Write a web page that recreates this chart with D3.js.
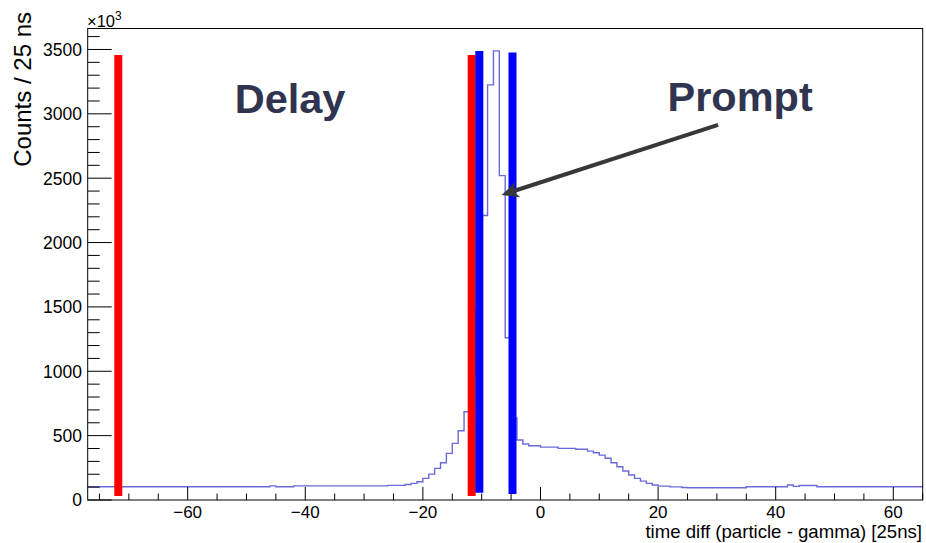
<!DOCTYPE html>
<html><head><meta charset="utf-8">
<script src="https://cdn.jsdelivr.net/npm/d3@7"></script>
<style>
body{margin:0;background:#fff}
svg{display:block}
text{font-family:"Liberation Sans",Arial,Helvetica,sans-serif}
</style>
</head><body>
<svg id="c" width="926" height="543"></svg>
<script>
// ---- data ----
const binStart = -77;   // lower edge of first bin
const binWidth = 1;     // 1 bin = 25 ns
const counts = [
  // -77 .. -47
  103,103,103,103,103,103,103,103,103,103,103,103,103,103,103,103,103,103,103,103,103,103,103,103,103,103,103,103,103,103,103,
  // -46
  110,
  // -45 .. -43
  103,103,103,
  // -42 .. -27
  110,110,110,110,110,110,110,110,110,110,110,110,110,110,110,110,
  // -26 .. -24
  114,114,114,
  // -23 .. -13
  121,129,142,168,201,246,289,362,440,538,686,
  // -12 .. -1
  960,1500,2210,3225,3489,2520,1260,638,466,435,422,422,
  // 0 .. 24
  411,411,411,401,401,401,394,394,380,367,349,324,289,258,225,194,168,147,129,116,108,108,102,102,97,
  // 25 .. 34
  95,95,95,95,95,95,95,95,95,95,
  // 35 .. 41
  103,103,103,103,103,103,103,
  // 42, 43
  116,106,
  // 44 .. 46
  113,113,113,
  // 47 .. 64
  103,103,103,103,103,103,103,103,103,103,103,103,103,103,103,103,103,103
];
const xMajorTicks = [-60,-40,-20,0,20,40,60];
const xTickLabels = ["\u221260","\u221240","\u221220","0","20","40","60"];
const yMajorTicks = [0,500,1000,1500,2000,2500,3000,3500];
const yTickLabels = ["0","500","1000","1500","2000","2500","3000","3500"];

// vertical window markers (delay = red, prompt = blue)
const markerX      = [-71.8, -11.7, -10.4, -4.76];
const markerTop    = [3458, 3458, 3489, 3476];
const markerBottom = [31, 31, 57, 47];
const markerColor  = ["#ff0000","#ff0000","#0000ff","#0000ff"];

const labels = ["Delay","Prompt"];
const labelX = [-52.0, 21.6];
const labelY = [3010, 3025];
const arrowFrom = [30.2, 2914];
const arrowTo   = [-6.6, 2370];

// ---- layout ----
const L = 87.7, R = 922.7, T = 28.5, B = 500;
const xDomain = [-77, 65];
const yDomain = [0, 3663];

const svg = d3.select("#c");
const x = d3.scaleLinear().domain(xDomain).range([L, R]);
const y = d3.scaleLinear().domain(yDomain).range([B, T]);

// histogram outline
const pts = counts.map((v,i)=>[binStart + i*binWidth, v]);
pts.push([binStart + counts.length*binWidth, counts[counts.length-1]]);
const line = d3.line().x(d=>x(d[0])).y(d=>y(d[1])).curve(d3.curveStepAfter);
svg.append("path").attr("d", line(pts))
  .attr("fill","none").attr("stroke","#5a5ad6").attr("stroke-width",1.4)
  .attr("stroke-opacity",0.9);

// markers
markerX.forEach((mx,i)=>{
  svg.append("line")
    .attr("x1",x(mx)).attr("x2",x(mx))
    .attr("y1",y(markerBottom[i])).attr("y2",y(markerTop[i]))
    .attr("stroke",markerColor[i]).attr("stroke-width",8);
});

// frame
const g = svg.append("g");
g.append("rect").attr("x",L).attr("y",T).attr("width",R-L).attr("height",B-T)
  .attr("fill","none").attr("stroke","#000").attr("stroke-width",1);

// x ticks
const xMinor = d3.range(-75, 66, 5);
xMinor.forEach(v=>{
  const major = xMajorTicks.includes(v);
  g.append("line").attr("x1",x(v)).attr("x2",x(v))
    .attr("y1",B).attr("y2",B-(major?13:6.5))
    .attr("stroke","#000").attr("stroke-width",1);
});
xMajorTicks.forEach((v,i)=>{
  g.append("text").attr("x",x(v)).attr("y",517.5)
    .attr("text-anchor","middle").attr("font-size",17).attr("fill","#000")
    .text(xTickLabels[i]);
});

// y ticks
const yMinor = d3.range(0, 3601, 100);
yMinor.forEach(v=>{
  const major = v % 500 === 0;
  g.append("line").attr("x1",L).attr("x2",L+(major?24:12))
    .attr("y1",y(v)).attr("y2",y(v))
    .attr("stroke","#000").attr("stroke-width",1);
});
yMajorTicks.forEach((v,i)=>{
  g.append("text").attr("x",82).attr("y",y(v)).attr("dy","0.36em")
    .attr("text-anchor","end").attr("font-size",17.5).attr("fill","#000")
    .text(yTickLabels[i]);
});

// exponent
const ex = g.append("text").attr("x",87).attr("y",27).attr("font-size",16.5).attr("fill","#000");
ex.append("tspan").text("\u00d710");
ex.append("tspan").attr("font-size",12).attr("dy",-7).text("3");

// axis titles
g.append("text").attr("x",922).attr("y",538).attr("text-anchor","end")
  .attr("font-size",18.6).attr("fill","#000").text("time diff (particle - gamma) [25ns]");
g.append("text").attr("transform","translate(31,12) rotate(-90)")
  .attr("text-anchor","end").attr("font-size",24).attr("fill","#000")
  .text("Counts / 25 ns");

// labels
labels.forEach((t,i)=>{
  svg.append("text").attr("x",x(labelX[i])).attr("y",y(labelY[i]))
    .attr("font-size",41.5).attr("font-weight","bold").attr("fill","#30344f").text(t);
});

// arrow
const ax1 = x(arrowFrom[0]), ay1 = y(arrowFrom[1]);
const ax2 = x(arrowTo[0]),   ay2 = y(arrowTo[1]);
const ang = Math.atan2(ay2-ay1, ax2-ax1);
const headLen = 17, headHalf = 8, notch = 5;
const bx = ax2 - headLen*Math.cos(ang), by = ay2 - headLen*Math.sin(ang);
svg.append("line").attr("x1",ax1).attr("y1",ay1)
  .attr("x2",ax2 - (headLen-notch)*Math.cos(ang)).attr("y2",ay2 - (headLen-notch)*Math.sin(ang))
  .attr("stroke","#383838").attr("stroke-width",4);
const px = -Math.sin(ang), py = Math.cos(ang);
const nx = ax2 - (headLen-notch)*Math.cos(ang), ny = ay2 - (headLen-notch)*Math.sin(ang);
svg.append("path")
  .attr("d",`M${ax2},${ay2} L${bx+px*headHalf},${by+py*headHalf} L${nx},${ny} L${bx-px*headHalf},${by-py*headHalf} Z`)
  .attr("fill","#383838");
</script>
</body></html>
